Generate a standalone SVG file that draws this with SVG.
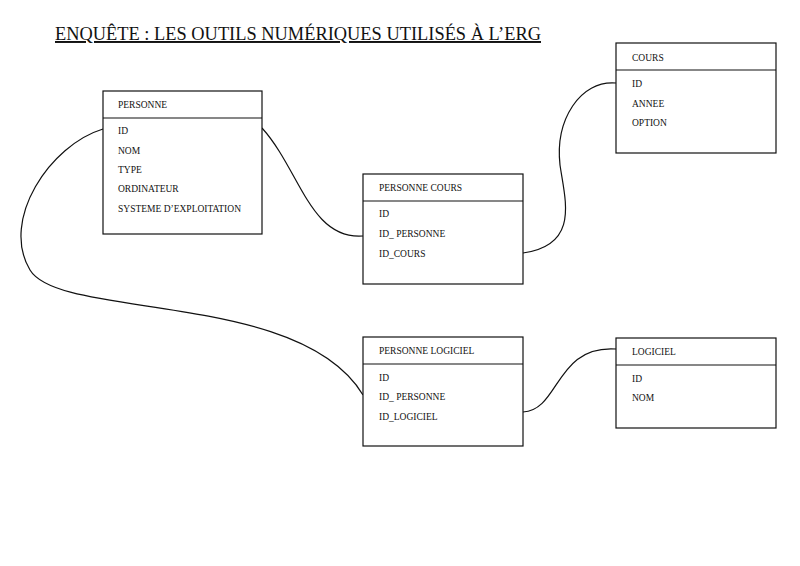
<svg xmlns="http://www.w3.org/2000/svg" width="800" height="566" viewBox="0 0 800 566">
<style>
text{font-family:"Liberation Serif",serif;font-size:9.5px;fill:#111}
.t{font-size:19.5px;text-decoration:underline}
rect{fill:#fff;stroke:#111;stroke-width:1.2}
line,path{stroke:#111;stroke-width:1.2;fill:none}
</style>
<rect x="0" y="0" width="800" height="566" style="stroke:none"/>
<text class="t" x="55" y="40" textLength="486" lengthAdjust="spacingAndGlyphs">ENQUÊTE : LES OUTILS NUMÉRIQUES UTILISÉS À L’ERG</text>
<g id="connectors">
<path d="M262,128 C300,170 310,240 363,236"/>
<path d="M523,253 C580,245 565,200 560,165 C555,120 580,80 616,83"/>
<path d="M103,129 C50,145 0,220 30,270 C60,320 300,290 363,395"/>
<path d="M523,412 C560,410 555,345 616,349"/>
</g>
<g id="personne"><rect x="103" y="91" width="159" height="143"/><line x1="103" y1="118" x2="262" y2="118"/>
<text x="118" y="108">PERSONNE</text><text x="118" y="134">ID</text><text x="118" y="154">NOM</text><text x="118" y="173">TYPE</text><text x="118" y="192">ORDINATEUR</text><text x="118" y="212">SYSTEME D’EXPLOITATION</text></g>
<g id="personne-cours"><rect x="363" y="174" width="160" height="110"/><line x1="363" y1="201" x2="523" y2="201"/>
<text x="379" y="191">PERSONNE COURS</text><text x="379" y="217">ID</text><text x="379" y="237">ID_ PERSONNE</text><text x="379" y="257">ID_COURS</text></g>
<g id="cours"><rect x="616" y="43" width="160" height="110"/><line x1="616" y1="70" x2="776" y2="70"/>
<text x="632" y="61">COURS</text><text x="632" y="87">ID</text><text x="632" y="107">ANNEE</text><text x="632" y="126">OPTION</text></g>
<g id="personne-logiciel"><rect x="363" y="337" width="160" height="109"/><line x1="363" y1="364" x2="523" y2="364"/>
<text x="379" y="354">PERSONNE LOGICIEL</text><text x="379" y="381">ID</text><text x="379" y="400">ID_ PERSONNE</text><text x="379" y="420">ID_LOGICIEL</text></g>
<g id="logiciel"><rect x="616" y="338" width="160" height="90"/><line x1="616" y1="365" x2="776" y2="365"/>
<text x="632" y="355">LOGICIEL</text><text x="632" y="382">ID</text><text x="632" y="401">NOM</text></g>
</svg>
